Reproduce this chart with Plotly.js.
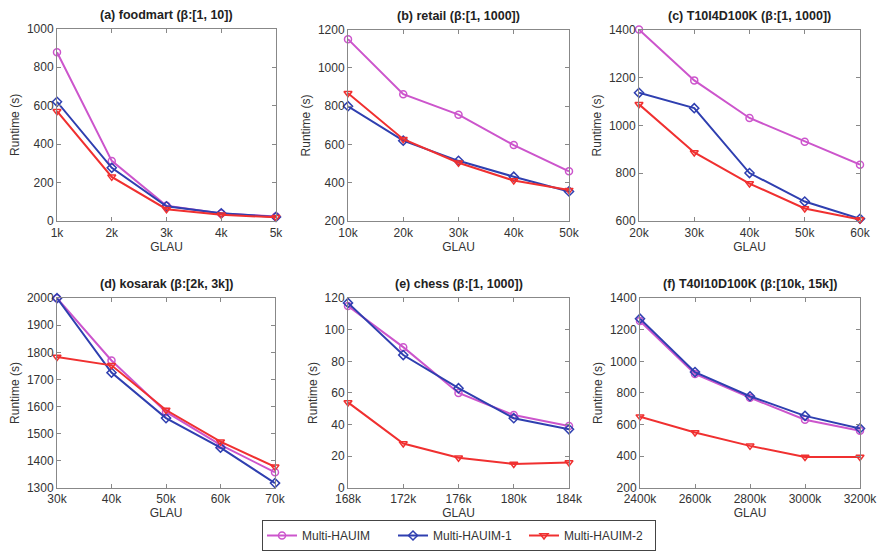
<!DOCTYPE html>
<html><head><meta charset="utf-8">
<script src="https://cdn.plot.ly/plotly-3.0.1.min.js"></script>
<style>body{margin:0;background:#fff}#chart{width:878px;height:551px}</style>
</head><body><div id="chart"></div>
<script>
// ---- data ----
const seriesNames = ["Multi-HAUIM", "Multi-HAUIM-1", "Multi-HAUIM-2"];
const titles = ["(a) foodmart (β:[1, 10])", "(b) retail (β:[1, 1000])", "(c) T10I4D100K (β:[1, 1000])",
                "(d) kosarak (β:[2k, 3k])", "(e) chess (β:[1, 1000])", "(f) T40I10D100K (β:[10k, 15k])"];

const xA = [1000, 2000, 3000, 4000, 5000];
const xAlabels = ["1k", "2k", "3k", "4k", "5k"];
const aHAUIM  = [877, 313, 80, 40, 24];
const aHAUIM1 = [620, 277, 77, 41, 22];
const aHAUIM2 = [571, 230, 62, 33, 20];

const xB = [10000, 20000, 30000, 40000, 50000];
const xBlabels = ["10k", "20k", "30k", "40k", "50k"];
const bHAUIM  = [1150, 863, 756, 597, 460];
const bHAUIM1 = [800, 620, 515, 432, 355];
const bHAUIM2 = [868, 628, 505, 412, 362];

const xC = [20000, 30000, 40000, 50000, 60000];
const xClabels = ["20k", "30k", "40k", "50k", "60k"];
const cHAUIM  = [1400, 1188, 1031, 932, 836];
const cHAUIM1 = [1136, 1072, 801, 682, 610];
const cHAUIM2 = [1088, 887, 757, 653, 607];

const xD = [30000, 40000, 50000, 60000, 70000];
const xDlabels = ["30k", "40k", "50k", "60k", "70k"];
const dHAUIM  = [2000, 1770, 1580, 1458, 1357];
const dHAUIM1 = [2000, 1725, 1557, 1448, 1317];
const dHAUIM2 = [1783, 1752, 1587, 1470, 1377];

const xE = [168000, 172000, 176000, 180000, 184000];
const xElabels = ["168k", "172k", "176k", "180k", "184k"];
const eHAUIM  = [115, 89, 60, 46, 39];
const eHAUIM1 = [117, 84, 63, 44, 37];
const eHAUIM2 = [54, 28, 19, 15, 16];

const xF = [2400000, 2600000, 2800000, 3000000, 3200000];
const xFlabels = ["2400k", "2600k", "2800k", "3000k", "3200k"];
const fHAUIM  = [1255, 920, 770, 630, 560];
const fHAUIM1 = [1270, 932, 779, 655, 575];
const fHAUIM2 = [650, 550, 465, 395, 395];

const yRanges = [[0, 1000], [200, 1200], [600, 1400], [1300, 2000], [0, 120], [200, 1400]];
const yDticks = [200, 200, 200, 100, 20, 200];

// ---- styling ----
const W = 878, H = 551;
const colors = ["#cc55cc", "#2f3fb0", "#f03030"];
const symbols = ["circle-open", "diamond-open", "triangle-down-open"];
const boxes = [ // [x0,x1,y0,y1] in px
  [57, 276, 29, 224], [348, 569, 30, 224], [639, 860, 30, 224],
  [57, 275, 302, 494], [348, 569, 302, 494], [640, 860, 302, 494]
];
const panels = [
  [xA, xAlabels, [aHAUIM, aHAUIM1, aHAUIM2]],
  [xB, xBlabels, [bHAUIM, bHAUIM1, bHAUIM2]],
  [xC, xClabels, [cHAUIM, cHAUIM1, cHAUIM2]],
  [xD, xDlabels, [dHAUIM, dHAUIM1, dHAUIM2]],
  [xE, xElabels, [eHAUIM, eHAUIM1, eHAUIM2]],
  [xF, xFlabels, [fHAUIM, fHAUIM1, fHAUIM2]]
];
const FONT = "Liberation Sans, Arial, sans-serif";
const traces = [];
const layout = {
  width: W, height: H, margin: {l: 0, r: 0, t: 0, b: 0},
  paper_bgcolor: "#fff", plot_bgcolor: "#fff",
  font: {family: FONT, size: 12, color: "#333"},
  showlegend: true,
  legend: {orientation: "h", x: 262 / W, y: 1 - 527 / H, xanchor: "left", yanchor: "top",
           bordercolor: "#444", borderwidth: 1, font: {size: 12, color: "#333"},
           tracegroupgap: 0, itemwidth: 30, entrywidth: 86, entrywidthmode: "pixels"},
  annotations: []
};
panels.forEach((p, i) => {
  const [xs, xl, ys] = p;
  const b = boxes[i];
  const n = i + 1;
  const xa = "xaxis" + (n === 1 ? "" : n), ya = "yaxis" + (n === 1 ? "" : n);
  const xr = "x" + (n === 1 ? "" : n), yr = "y" + (n === 1 ? "" : n);
  ys.forEach((vals, k) => {
    traces.push({
      x: xs, y: vals, xaxis: xr, yaxis: yr, type: "scatter", mode: "lines+markers",
      name: seriesNames[k], showlegend: i === 0, legendgroup: seriesNames[k],
      line: {color: colors[k], width: 2},
      marker: {symbol: symbols[k], size: 7, color: colors[k], line: {width: 1.5, color: colors[k]}},
      cliponaxis: false
    });
  });
  const common = {
    showgrid: false, zeroline: false, showline: true, linecolor: "#888", linewidth: 1,
    mirror: "ticks", ticks: "inside", ticklen: 4, tickcolor: "#888",
    tickfont: {family: FONT, size: 12, color: "#333"}
  };
  layout[xa] = Object.assign({}, common, {
    domain: [b[0] / W, b[1] / W], anchor: yr,
    range: [xs[0], xs[xs.length - 1]], tickmode: "array", tickvals: xs, ticktext: xl,
    title: {text: "GLAU", font: {family: FONT, size: 12, color: "#333"}, standoff: 2}
  });
  layout[ya] = Object.assign({}, common, {
    domain: [1 - b[3] / H, 1 - b[2] / H], anchor: xr,
    range: yRanges[i], dtick: yDticks[i], tick0: 0,
    title: {text: "Runtime (s)", font: {family: FONT, size: 12, color: "#333"}, standoff: 4}
  });
  layout.annotations.push({
    text: "<b>" + titles[i] + "</b>", xref: "paper", yref: "paper",
    x: (b[0] + b[1]) / 2 / W, y: 1 - (b[2] - 14) / H, xanchor: "center", yanchor: "middle",
    showarrow: false, font: {family: FONT, size: 12.5, color: "#222"}
  });
});
Plotly.newPlot("chart", traces, layout, {staticPlot: true});
</script></body></html>
